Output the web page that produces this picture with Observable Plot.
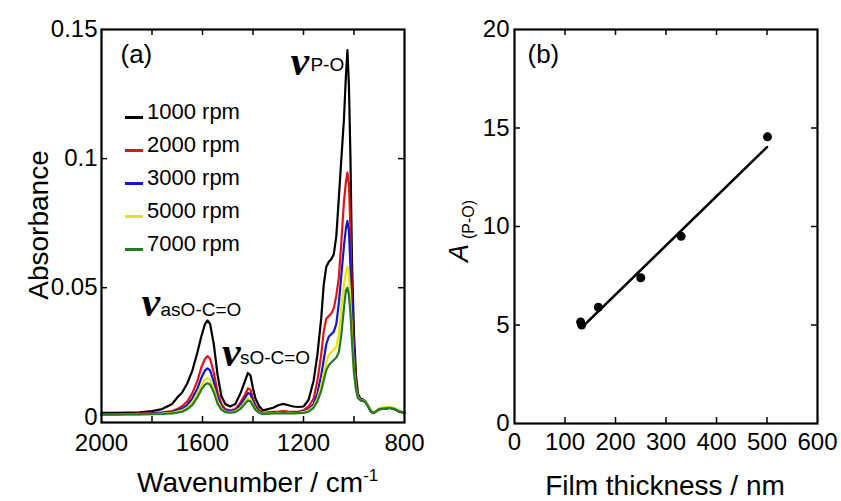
<!DOCTYPE html>
<html><head><meta charset="utf-8">
<script src="https://cdn.jsdelivr.net/npm/d3@7"></script>
<script src="https://cdn.jsdelivr.net/npm/@observablehq/plot@0.6"></script>
<style>
html,body{margin:0;padding:0;background:#fff;}
#wrap{position:relative;width:841px;height:501px;overflow:hidden;font-family:"Liberation Sans",Arial,sans-serif;}
#wrap svg{position:absolute;top:0;}
#legend{position:absolute;left:125px;top:95px;}
#legend .row{display:flex;align-items:center;height:33px;font-size:22px;color:#000;}
#legend .sw{width:18px;height:3px;margin-top:11px;margin-right:4px;}
</style></head><body><div id="wrap"><div id="legend"></div></div>
<script>
// ---------- Panel (a): IR spectra ----------
const wavenumbers = [2000,1950,1900,1850,1800,1760,1720,1700,1680,1660,1640,1620,1605,1590,1580,1570,1555,1540,1525,1510,1490,1470,1450,1435,1420,1410,1400,1390,1375,1360,1340,1320,1300,1280,1260,1240,1220,1200,1180,1160,1145,1130,1120,1110,1100,1090,1080,1070,1060,1050,1040,1032,1026,1020,1014,1008,1000,992,984,975,965,955,945,935,925,915,900,880,860,840,820,800];
const abs1000 = [.0015,.0015,.0016,.0017,.0022,.0030,.0050,.0075,.0095,.0130,.0180,.0250,.0310,.0360,.0373,.0360,.0280,.0160,.0080,.0050,.0040,.0050,.0090,.0130,.0170,.0160,.0110,.0070,.0040,.0025,.0030,.0035,.0045,.0050,.0045,.0040,.0038,.0040,.0065,.0140,.0240,.0380,.0510,.0580,.0600,.0610,.0630,.0700,.0850,.1000,.1150,.1320,.1420,.1280,.1000,.0600,.0320,.0160,.0090,.0070,.0068,.0060,.0045,.0025,.0015,.0020,.0030,.0033,.0035,.0030,.0020,.0015];
const abs2000 = [.0010,.0010,.0011,.0012,.0014,.0017,.0022,.0030,.0042,.0060,.0092,.0140,.0190,.0225,.0235,.0225,.0170,.0095,.0050,.0030,.0025,.0030,.0055,.0080,.0110,.0105,.0070,.0045,.0025,.0015,.0017,.0019,.0020,.0022,.0020,.0019,.0020,.0025,.0040,.0070,.0140,.0240,.0330,.0380,.0390,.0400,.0420,.0470,.0540,.0680,.0830,.0910,.0946,.0900,.0720,.0460,.0250,.0130,.0080,.0065,.0064,.0057,.0042,.0023,.0014,.0019,.0029,.0032,.0034,.0030,.0020,.0015];
const abs3000 = [.0009,.0009,.0010,.0010,.0012,.0014,.0018,.0025,.0032,.0046,.0072,.0110,.0150,.0180,.0188,.0180,.0135,.0075,.0040,.0025,.0021,.0025,.0045,.0068,.0092,.0088,.0060,.0038,.0020,.0013,.0015,.0016,.0017,.0018,.0017,.0016,.0017,.0020,.0030,.0050,.0090,.0160,.0220,.0280,.0310,.0320,.0330,.0360,.0440,.0550,.0660,.0730,.0758,.0720,.0580,.0400,.0220,.0120,.0078,.0065,.0064,.0057,.0042,.0024,.0015,.0020,.0030,.0033,.0035,.0031,.0021,.0016];
const abs5000 = [.0008,.0008,.0009,.0009,.0010,.0012,.0015,.0020,.0025,.0036,.0056,.0090,.0120,.0145,.0150,.0143,.0110,.0060,.0033,.0020,.0018,.0021,.0035,.0054,.0073,.0070,.0048,.0030,.0017,.0012,.0013,.0014,.0015,.0015,.0015,.0014,.0015,.0018,.0025,.0040,.0070,.0120,.0170,.0210,.0240,.0250,.0260,.0270,.0320,.0420,.0510,.0560,.0580,.0550,.0450,.0320,.0180,.0110,.0075,.0065,.0064,.0058,.0044,.0026,.0017,.0022,.0033,.0037,.0039,.0034,.0023,.0017];
const abs7000 = [.0008,.0008,.0009,.0009,.0010,.0011,.0013,.0016,.0020,.0030,.0046,.0076,.0105,.0125,.0130,.0125,.0095,.0050,.0028,.0018,.0016,.0018,.0030,.0047,.0063,.0060,.0042,.0027,.0015,.0011,.0012,.0013,.0013,.0014,.0013,.0013,.0014,.0015,.0020,.0035,.0060,.0100,.0140,.0180,.0200,.0210,.0220,.0230,.0250,.0320,.0420,.0490,.0500,.0470,.0400,.0290,.0170,.0105,.0072,.0064,.0063,.0056,.0042,.0024,.0015,.0020,.0030,.0033,.0035,.0031,.0021,.0016];
const seriesNames = ["1000 rpm","2000 rpm","3000 rpm","5000 rpm","7000 rpm"];
const seriesColors = ["#000000","#e01414","#1414d2","#e6e600","#237a23"];
const xTicksA = [2000,1600,1200,800];
const xMinorA = [1800,1600,1400,1200,1000];
const yTicksA = [0,0.05,0.1,0.15];
const yMinorA = [0.05,0.1];

// ---------- Panel (b): A(P-O) vs film thickness ----------
const thickness = [131,133,166,250,330,501];
const areaPO = [5.15,5.0,5.9,7.4,9.5,14.55];
const fitThickness = [135,500];
const fitArea = [4.92,14.03];
const xTicksB = [0,100,200,300,400,500,600];
const xMinorB = [100,200,300,400,500];
const yTicksB = [0,5,10,15,20];
const yMinorB = [5,10,15];

const H = 501;
const mA = {top:29,right:16,bottom:79,left:101}, WA = 420;
const mB = {top:29,right:24,bottom:78,left:94}, WB = 421;
const innerHA = H - mA.top - mA.bottom, innerWA = WA - mA.left - mA.right;
const innerHB = H - mB.top - mB.bottom, innerWB = WB - mB.left - mB.right;
const tickLen = 6;
const font = "'Liberation Sans', Arial, sans-serif";

const seriesArrays = [abs1000,abs2000,abs3000,abs5000,abs7000];
const spectra = seriesArrays.flatMap((arr,s)=>arr.map((A,i)=>({wn:wavenumbers[i],A,series:seriesNames[s]})));

function peakIn(lo,hi){
  let best=null;
  wavenumbers.forEach((w,i)=>{ if(w>=lo&&w<=hi&&(!best||abs1000[i]>best.A)) best={wn:w,A:abs1000[i]}; });
  return best;
}
const peakPO = peakIn(950,1100), peakAs = peakIn(1500,1700), peakS = peakIn(1350,1480);

const nuStyle = {text:()=>"ν", fontFamily:"'Liberation Serif','Times New Roman',serif", fontStyle:"italic", fontWeight:"bold", fontSize:42, textAnchor:"start", lineAnchor:"middle", fill:"black"};
const subStyle = {fontFamily:font, fontSize:19, textAnchor:"start", lineAnchor:"middle", fill:"black"};

const plotA = Plot.plot({
  width:WA, height:H,
  marginTop:mA.top, marginRight:mA.right, marginBottom:mA.bottom, marginLeft:mA.left,
  style:{fontFamily:font, fontSize:"24px", color:"#000", background:"transparent", overflow:"visible"},
  x:{domain:[2000,800], ticks:xTicksA, tickFormat:d=>String(d), tickSize:0, tickPadding:11, label:null},
  y:{domain:[-0.0022,0.15], ticks:yTicksA, tickFormat:d=>String(d), tickSize:0, tickPadding:4, label:null},
  color:{domain:seriesNames, range:seriesColors},
  marks:[
    Plot.line(spectra,{x:"wn",y:"A",z:"series",stroke:"series",strokeWidth:2.2}),
    Plot.tickX(xMinorA,{x:d=>d,insetTop:innerHA-tickLen,strokeWidth:1.5}),
    Plot.tickX(xMinorA,{x:d=>d,insetBottom:innerHA-tickLen,strokeWidth:1.5}),
    Plot.tickY(yMinorA,{y:d=>d,insetRight:innerWA-tickLen,strokeWidth:1.5}),
    Plot.tickY(yMinorA,{y:d=>d,insetLeft:innerWA-tickLen,strokeWidth:1.5}),
    Plot.frame({stroke:"black",strokeWidth:2.2}),
    Plot.text(["(a)"],{frameAnchor:"top-left",text:d=>d,dx:19,dy:33,textAnchor:"start",lineAnchor:"bottom",fontSize:26}),
    Plot.text([peakPO],{x:"wn",y:"A",...nuStyle,dx:-57,dy:11}),
    Plot.text([peakPO],{x:"wn",y:"A",text:()=>"P-O",...subStyle,dx:-37,dy:15}),
    Plot.text([peakAs],{x:"wn",y:"A",...nuStyle,dx:-66,dy:-18}),
    Plot.text([peakAs],{x:"wn",y:"A",text:()=>"asO-C=O",...subStyle,dx:-47,dy:-11}),
    Plot.text([peakS],{x:"wn",y:"A",...nuStyle,dx:-26,dy:-20}),
    Plot.text([peakS],{x:"wn",y:"A",text:()=>"sO-C=O",...subStyle,dx:-8,dy:-15})
  ]
});

const pointsB = thickness.map((t,i)=>({t,a:areaPO[i]}));
const fitB = fitThickness.map((t,i)=>({t,a:fitArea[i]}));
const plotB = Plot.plot({
  width:WB, height:H,
  marginTop:mB.top, marginRight:mB.right, marginBottom:mB.bottom, marginLeft:mB.left,
  style:{fontFamily:font, fontSize:"24px", color:"#000", background:"transparent", overflow:"visible"},
  x:{domain:[0,600], ticks:xTicksB, tickFormat:d=>String(d), tickSize:0, tickPadding:9, label:null},
  y:{domain:[0,20], ticks:yTicksB, tickFormat:d=>String(d), tickSize:0, tickPadding:5, label:null},
  marks:[
    Plot.line(fitB,{x:"t",y:"a",strokeWidth:2.6}),
    Plot.dot(pointsB,{x:"t",y:"a",r:4.5,fill:"black"}),
    Plot.tickX(xMinorB,{x:d=>d,insetTop:innerHB-tickLen,strokeWidth:1.5}),
    Plot.tickX(xMinorB,{x:d=>d,insetBottom:innerHB-tickLen,strokeWidth:1.5}),
    Plot.tickY(yMinorB,{y:d=>d,insetRight:innerWB-tickLen,strokeWidth:1.5}),
    Plot.tickY(yMinorB,{y:d=>d,insetLeft:innerWB-tickLen,strokeWidth:1.5}),
    Plot.frame({stroke:"black",strokeWidth:2.2}),
    Plot.text(["(b)"],{frameAnchor:"top-left",text:d=>d,dx:13,dy:33,textAnchor:"start",lineAnchor:"bottom",fontSize:26})
  ]
});

const wrap = document.getElementById("wrap");
plotA.style.left = "0px";
plotB.style.left = "420px";
wrap.appendChild(plotA);
wrap.appendChild(plotB);

// axis titles
const sa = d3.select(plotA);
sa.append("text").attr("transform","translate(48,225) rotate(-90)").attr("text-anchor","middle")
  .attr("font-size",28).attr("fill","black").text("Absorbance");
const wt = sa.append("text").attr("x",137).attr("y",492).attr("text-anchor","start").attr("font-size",28).attr("fill","black");
wt.append("tspan").text("Wavenumber / cm");
wt.append("tspan").attr("font-size",17).attr("dy",-11).text("-1");

const sb = d3.select(plotB);
sb.append("text").attr("x",245).attr("y",495).attr("text-anchor","middle")
  .attr("font-size",28).attr("fill","black").text("Film thickness / nm");
const at = sb.append("text").attr("transform","translate(48,262) rotate(-90)").attr("text-anchor","start").attr("fill","black");
at.append("tspan").attr("font-size",27).attr("font-style","italic").text("A");
at.append("tspan").attr("font-size",16).attr("dx",5).attr("dy",6).text("(P-O)");

// legend
const legend = d3.select("#legend");
seriesNames.forEach((name,i)=>{
  const row = legend.append("div").attr("class","row");
  row.append("div").attr("class","sw").style("background",seriesColors[i]);
  row.append("span").text(name);
});
</script></body></html>
